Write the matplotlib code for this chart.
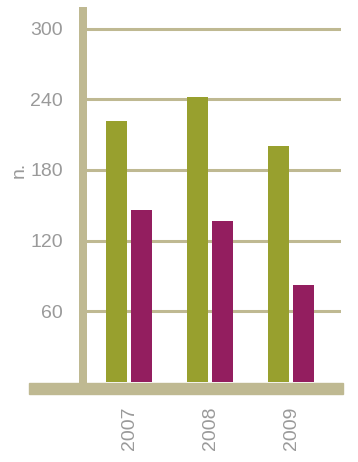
import numpy as np
import matplotlib
matplotlib.use("Agg")
import matplotlib.pyplot as plt
from matplotlib.patches import Rectangle

# data
years = ["2007", "2008", "2009"]
green_vals = [222, 242, 200]
purple_vals = [146, 137, 82]
yticks = [60, 120, 180, 240, 300]

GREEN = "#98a02e"
PURPLE = "#931e5f"
TAN = "#bfb992"
TEXT = "#9a9a9a"

plt.rcParams["font.family"] = ["Liberation Sans Narrow", "Liberation Sans", "DejaVu Sans"]

W, H = 358, 462
fig = plt.figure(figsize=(W / 100, H / 100), dpi=100)
# axes: left edge centered on the thick vertical bar, bottom at zero
ax = fig.add_axes([83 / W, (H - 382) / H, (341 - 83) / W, (382 - 11) / H])

x = np.arange(len(years))
bw, off = 0.26, 0.154
ax.bar(x - off, green_vals, width=bw, color=GREEN, zorder=3)
ax.bar(x + off, purple_vals, width=bw, color=PURPLE, zorder=3)

ax.set_xlim(-0.568, 2.617)
ax.set_ylim(0, 315)
ax.set_yticks(yticks)
ax.set_yticklabels([str(v) for v in yticks])
ax.set_xticks(x)
ax.set_xticklabels(years, rotation=90, va="top", ha="center")
ax.tick_params(axis="both", length=0, colors=TEXT, labelsize=14)
ax.tick_params(axis="y", pad=14.4)
ax.tick_params(axis="x", pad=17.5)

ax.yaxis.grid(True, color=TAN, lw=2.2, zorder=1)
ax.set_axisbelow(True)

for s in ("top", "right", "bottom"):
    ax.spines[s].set_visible(False)
ax.spines["left"].set_color(TAN)
ax.spines["left"].set_linewidth(8 * 0.72)
ax.spines["left"].set_zorder(4)

ax.set_ylabel("n.", color=TEXT, fontsize=14)
ax.yaxis.set_label_coords(-0.215, 0.571)

# thick baseline band under the bars
fig.add_artist(Rectangle((29 / W, (H - 394) / H), (343 - 29) / W, 11 / H,
                         transform=fig.transFigure, color=TAN, zorder=5))

fig.savefig("out.png", dpi=100)
